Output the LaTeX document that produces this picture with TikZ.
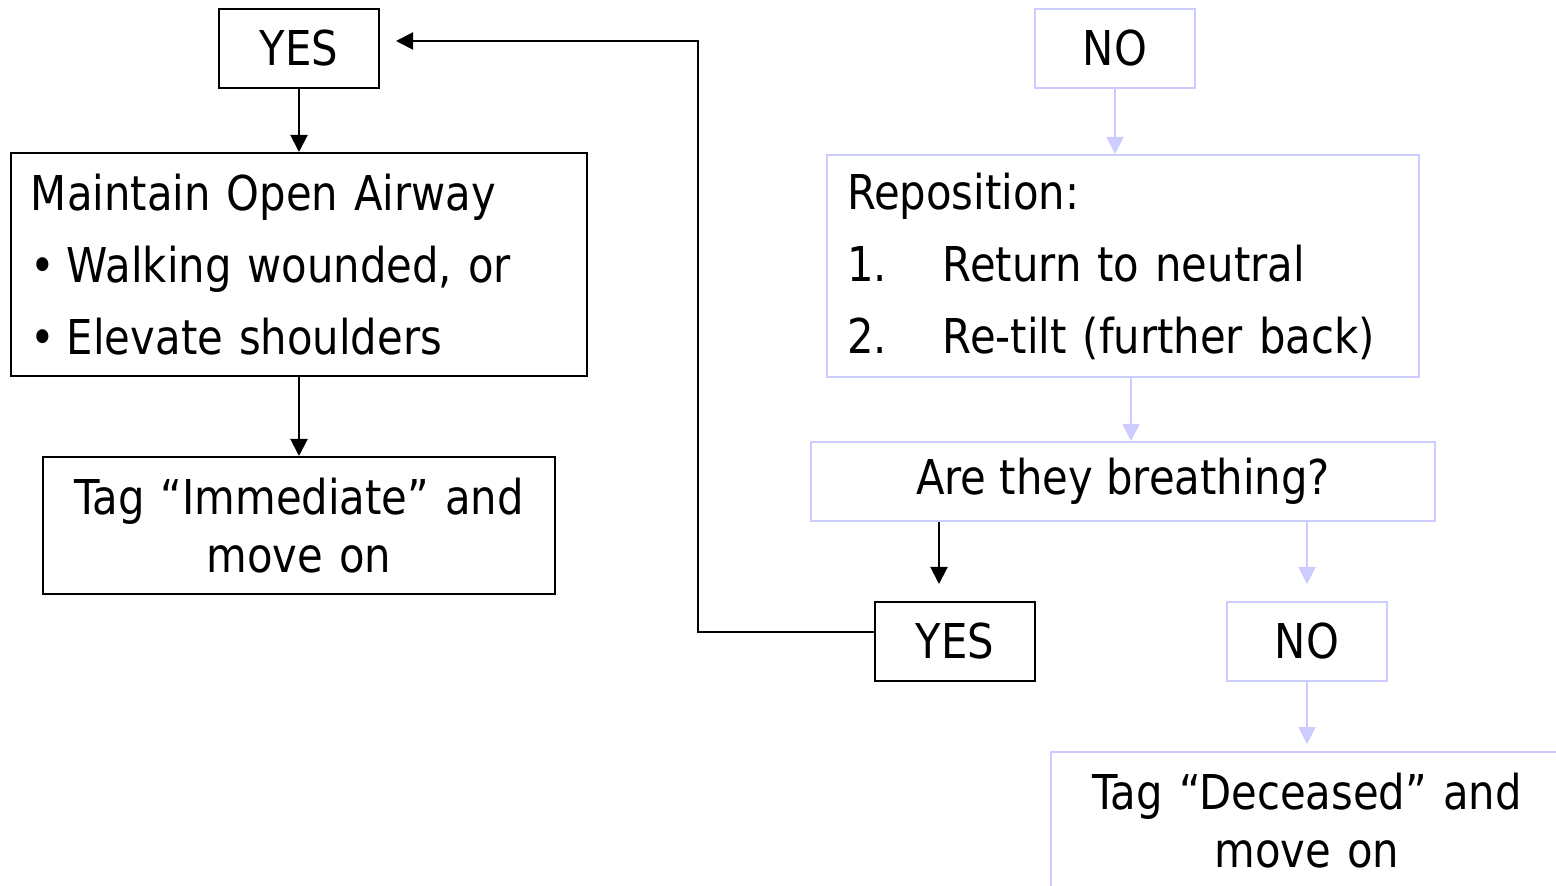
\documentclass[tikz,border=0pt]{standalone}
\usepackage{fontspec}
\setmainfont{DejaVu Sans}[FakeStretch=0.87]
\usetikzlibrary{arrows.meta, positioning}
\definecolor{paleblue}{HTML}{CCCCFF}
\tikzset{
    box/.style={rectangle, draw=black, line width=1pt, inner xsep=10pt, inner ysep=3pt, text centered, font=\fontsize{24}{29}\selectfont},
    palebox/.style={box, draw=paleblue},
    listbox/.style={align=left, font=\fontsize{24}{36}\selectfont},
    arrow/.style={line width=1pt, -{Triangle[length=8.5pt,width=8.5pt]}},
    palearrow/.style={arrow, draw=paleblue}
}

\begin{document}
\begin{tikzpicture}[x=0.5pt, y=-0.5pt]
        \useasboundingbox (0,0) rectangle (1556,886);
        \clip (0,0) rectangle (1556,886);

        % Nodes
        \node (yes1) [box, minimum width=80pt, minimum height=39.5pt] at (299,48.5) {YES};

        \node (maintain) [box, listbox, text width=268pt, minimum height=111.5pt] at (299,264.5) {Maintain Open Airway\\\makebox[18pt][l]{\textbullet}Walking wounded, or\\\makebox[18pt][l]{\textbullet}Elevate shoulders};

        \node (immediate) [box, text width=236pt, minimum height=68.5pt, align=center] at (299,525.5) {Tag “Immediate” and\\move on};

        \node (no1) [palebox, minimum width=80pt, minimum height=39.5pt] at (1115,48.5) {NO};

        \node (repo) [palebox, listbox, text width=276pt, minimum height=111pt] at (1123,266) {Reposition:\\\makebox[48pt][l]{1.}Return to neutral\\\makebox[48pt][l]{2.}Re-tilt (further back)};

        \node (breathing) [palebox, minimum width=312pt, minimum height=39.5pt] at (1123,481.5) {Are they breathing?};

        \node (yes2) [box, minimum width=80pt, minimum height=39.5pt] at (955,641.5) {YES};

        \node (no2) [palebox, minimum width=80pt, minimum height=39.5pt] at (1307,641.5) {NO};

        \node (deceased) [palebox, text width=236pt, minimum height=68.5pt, align=center] at (1307,820.5) {Tag “Deceased” and\\move on};

        % Arrows
        \draw[arrow] (yes1) -- (maintain);
        \draw[arrow] (maintain) -- (immediate);
        \draw[palearrow] (no1) -- (no1 |- repo.north);
        \draw[palearrow] ([xshift=4pt]repo.south) -- ([xshift=4pt]repo.south |- breathing.north);
        \draw[arrow, shorten >=8.5pt] ([xshift=-8pt]yes2.north |- breathing.south) -- ([xshift=-8pt]yes2.north);
        \draw[palearrow, shorten >=8.5pt] (no2 |- breathing.south) -- (no2.north);
        \draw[palearrow, shorten >=3.5pt] (no2) -- (deceased);
        \draw[arrow, shorten >=8pt] ([yshift=4.75pt]yes2.west) -- ++(-176,0) |- ([yshift=3.75pt]yes1.east);

    \end{tikzpicture}
\end{document}
